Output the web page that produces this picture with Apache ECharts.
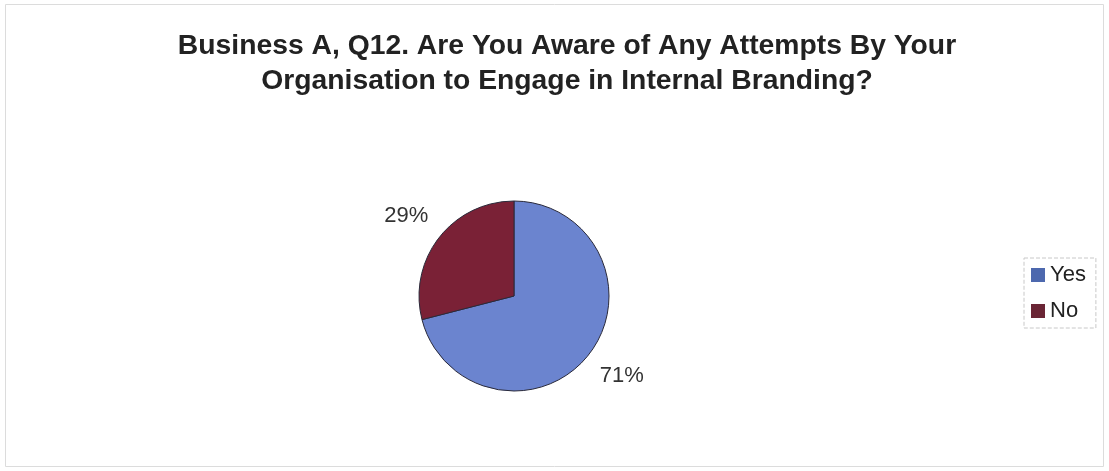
<!DOCTYPE html>
<html>
<head>
<meta charset="utf-8">
<script src="https://cdn.jsdelivr.net/npm/echarts@6/dist/echarts.min.js"></script>
<style>
  html, body { margin: 0; padding: 0; background: #fff; }
  #chart { width: 1109px; height: 471px; }
</style>
</head>
<body>
<div id="chart"></div>
<script>
// Survey answers and their shares (percent)
const categories = ['Yes', 'No'];
const shares = [71, 29];
const sliceColors = ['#6b84cf', '#7a2136'];
const legendColors = ['#4d68ae', '#6a2535'];

const chart = echarts.init(document.getElementById('chart'));

chart.setOption({
  backgroundColor: '#fff',
  animation: false,
  title: {
    text: 'Business A, Q12. Are You Aware of Any Attempts By Your\nOrganisation to Engage in Internal Branding?',
    left: 562,
    textAlign: 'center',
    top: 24,
    textStyle: {
      fontFamily: 'Liberation Sans, Arial, sans-serif',
      fontWeight: 'bold',
      fontSize: 28.3,
      lineHeight: 35,
      color: '#222'
    }
  },
  graphic: [{
    type: 'rect',
    shape: { x: 5.5, y: 4.5, width: 1098, height: 462 },
    style: { fill: 'none', stroke: '#dcdcdc', lineWidth: 1 },
    silent: true
  }],
  legend: {
    orient: 'vertical',
    left: 1024,
    top: 258,
    itemWidth: 14,
    itemHeight: 14,
    itemGap: 14,
    padding: [6, 10, 6, 7],
    borderColor: '#c8c8c8',
    borderWidth: 1,
    borderType: 'dashed',
    icon: 'rect',
    itemStyle: { borderWidth: 0 },
    textStyle: {
      fontFamily: 'Liberation Sans, Arial, sans-serif',
      fontSize: 22,
      color: '#222',
      padding: [0, 0, 0, 0]
    },
    data: categories.map((c, i) => ({ name: c, itemStyle: { color: legendColors[i], borderWidth: 0 } }))
  },
  series: [{
    type: 'pie',
    center: [514, 296],
    radius: 95,
    startAngle: 90,
    clockwise: true,
    avoidLabelOverlap: false,
    itemStyle: { borderColor: '#2a2a3a', borderWidth: 1 },
    label: {
      show: true,
      position: 'outside',
      formatter: '{c}%',
      fontFamily: 'Liberation Sans, Arial, sans-serif',
      fontSize: 22,
      color: '#333'
    },
    // labels sit centred on the radial line through each slice
    labelLine: { show: false, length: 35, length2: 0 },
    labelLayout: { align: 'center', verticalAlign: 'middle' },
    data: categories.map((c, i) => ({ name: c, value: shares[i], itemStyle: { color: sliceColors[i] } }))
  }]
});
</script>
</body>
</html>
